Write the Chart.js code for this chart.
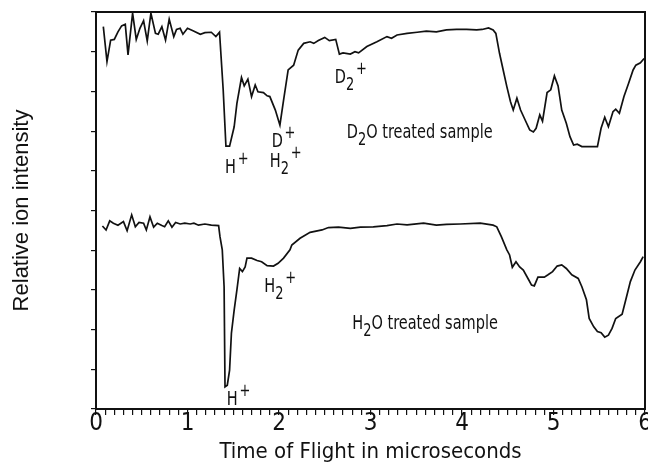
<!DOCTYPE html>
<html>
<head>
<meta charset="utf-8">
<script src="https://cdn.jsdelivr.net/npm/chart.js@4.4.1/dist/chart.umd.min.js"></script>
<style>
    html, body { margin: 0; padding: 0; background: #fff; }
</style>
</head>
<body>
<canvas id="tofChart" width="648" height="466"></canvas>
<script>
// Time of flight (microseconds) and relative intensity
const d2oTime = [
    0.08, 0.12, 0.16, 0.20, 0.24, 0.28, 0.32, 0.35, 0.40, 0.44,
    0.48, 0.52, 0.56, 0.60, 0.65, 0.68, 0.72, 0.76, 0.80, 0.85,
    0.88, 0.92, 0.95, 1.00, 1.06, 1.14, 1.19, 1.26, 1.31, 1.35,
    1.39, 1.42, 1.46, 1.51, 1.54, 1.59, 1.62, 1.66, 1.70, 1.74,
    1.77, 1.83, 1.87, 1.90, 1.96, 2.01, 2.05, 2.10, 2.16, 2.21,
    2.27, 2.34, 2.38, 2.43, 2.50, 2.55, 2.62, 2.66, 2.70, 2.78,
    2.83, 2.87, 2.96, 3.07, 3.18, 3.23, 3.29, 3.40, 3.51, 3.61,
    3.72, 3.83, 3.94, 4.05, 4.16, 4.22, 4.29, 4.34, 4.37, 4.41,
    4.45, 4.49, 4.53, 4.56, 4.60, 4.64, 4.69, 4.74, 4.78, 4.81,
    4.85, 4.88, 4.93, 4.97, 5.01, 5.05, 5.09, 5.14, 5.18, 5.22,
    5.26, 5.31, 5.48, 5.52, 5.56, 5.60, 5.65, 5.68, 5.72, 5.77,
    5.82, 5.87, 5.90, 5.95, 5.99
];
const d2oIntensity = [
    9.63, 8.75, 9.29, 9.31, 9.50, 9.65, 9.69, 8.92, 9.97, 9.31,
    9.59, 9.78, 9.27, 9.97, 9.46, 9.44, 9.63, 9.29, 9.82, 9.38,
    9.56, 9.59, 9.44, 9.59, 9.53, 9.44, 9.48, 9.49, 9.38, 9.49,
    8.04, 6.62, 6.62, 7.11, 7.70, 8.35, 8.14, 8.31, 7.87, 8.16,
    7.99, 7.97, 7.89, 7.87, 7.53, 7.15, 7.78, 8.54, 8.66, 9.04,
    9.21, 9.25, 9.21, 9.28, 9.36, 9.28, 9.31, 8.94, 8.97, 8.94,
    9.00, 8.97, 9.13, 9.25, 9.38, 9.34, 9.42, 9.46, 9.49, 9.52,
    9.50, 9.55, 9.56, 9.56, 9.55, 9.56, 9.60, 9.55, 9.46, 8.96,
    8.54, 8.12, 7.74, 7.53, 7.83, 7.53, 7.28, 7.03, 6.98, 7.07,
    7.41, 7.25, 7.97, 8.04, 8.39, 8.14, 7.53, 7.20, 6.86, 6.65,
    6.67, 6.61, 6.61, 7.07, 7.35, 7.11, 7.49, 7.55, 7.45, 7.87,
    8.20, 8.54, 8.66, 8.72, 8.83
];

const h2oTime = [
    0.07, 0.11, 0.15, 0.19, 0.24, 0.30, 0.34, 0.39, 0.43, 0.47,
    0.52, 0.55, 0.59, 0.63, 0.67, 0.72, 0.75, 0.79, 0.83, 0.87,
    0.92, 0.97, 1.03, 1.07, 1.12, 1.19, 1.26, 1.34, 1.355, 1.38,
    1.40, 1.41, 1.435, 1.46, 1.48, 1.51, 1.54, 1.57, 1.60, 1.63,
    1.65, 1.70, 1.76, 1.81, 1.87, 1.94, 1.99, 2.05, 2.12, 2.14,
    2.23, 2.34, 2.47, 2.54, 2.65, 2.78, 2.89, 3.03, 3.18, 3.29,
    3.40, 3.58, 3.72, 3.83, 3.98, 4.20, 4.34, 4.38, 4.43, 4.49,
    4.52, 4.55, 4.59, 4.63, 4.67, 4.73, 4.76, 4.79, 4.83, 4.90,
    4.94, 4.99, 5.04, 5.09, 5.14, 5.20, 5.27, 5.31, 5.36, 5.39,
    5.44, 5.48, 5.52, 5.56, 5.60, 5.64, 5.68, 5.75, 5.79, 5.84,
    5.89, 5.95, 5.98
];
const h2oIntensity = [
    4.61, 4.51, 4.74, 4.68, 4.63, 4.72, 4.49, 4.89, 4.59, 4.70,
    4.68, 4.51, 4.84, 4.58, 4.68, 4.62, 4.59, 4.74, 4.58, 4.70,
    4.66, 4.68, 4.66, 4.68, 4.63, 4.66, 4.63, 4.62, 4.34, 4.01,
    3.08, 0.56, 0.60, 0.98, 1.91, 2.49, 3.00, 3.54, 3.46, 3.58,
    3.80, 3.80, 3.74, 3.71, 3.61, 3.60, 3.67, 3.80, 4.01, 4.13,
    4.30, 4.45, 4.51, 4.57, 4.58, 4.55, 4.58, 4.59, 4.62, 4.66,
    4.64, 4.68, 4.63, 4.65, 4.66, 4.68, 4.63, 4.59, 4.34, 4.01,
    3.88, 3.57, 3.71, 3.58, 3.50, 3.25, 3.12, 3.10, 3.32, 3.32,
    3.38, 3.46, 3.60, 3.63, 3.54, 3.38, 3.29, 3.08, 2.75, 2.28,
    2.07, 1.95, 1.92, 1.81, 1.86, 2.03, 2.28, 2.39, 2.75, 3.21,
    3.50, 3.71, 3.84
];

const xTickLabels = ['0', '1', '2', '3', '4', '5', '6'];

// ion labels: anchor (time, intensity) = left end of the text baseline
const ionLabels = [
    { t: 1.41, v: 5.94, parts: [['H', ''], ['+', 'sup']] },
    { t: 1.92, v: 6.59, parts: [['D', ''], ['+', 'sup']] },
    { t: 1.90, v: 6.10, parts: [['H', ''], ['2', 'sub'], ['+', 'sup']] },
    { t: 2.61, v: 8.20, parts: [['D', ''], ['2', 'sub'], ['+', 'sup']] },
    { t: 2.74, v: 6.82, parts: [['D', ''], ['2', 'sub'], ['O treated sample', '']] },
    { t: 1.84, v: 2.95, parts: [['H', ''], ['2', 'sub'], ['+', 'sup']] },
    { t: 1.43, v: 0.10, parts: [['H', ''], ['+', 'sup']] },
    { t: 2.80, v: 2.02, parts: [['H', ''], ['2', 'sub'], ['O treated sample', '']] }
];

const narrowFont = "'Liberation Sans Narrow', 'DejaVu Sans Condensed', sans-serif";
const ink = '#111';

const toPoints = (xs, ys) => xs.map((x, i) => ({ x: x, y: ys[i] }));

const ionLabelPlugin = {
    id: 'ionLabels',
    afterDatasetsDraw(chart) {
        const ctx = chart.ctx;
        const xs = chart.scales.x;
        const ys = chart.scales.y;
        ionLabels.forEach(lbl => {
            ctx.save();
            ctx.fillStyle = ink;
            ctx.textBaseline = 'alphabetic';
            ctx.textAlign = 'left';
            ctx.translate(xs.getPixelForValue(lbl.t), ys.getPixelForValue(lbl.v));
            ctx.scale(0.85, 1);   // the original lettering is very condensed
            let px = 0;
            lbl.parts.forEach(([txt, kind]) => {
                let dy = 0;
                if (kind === 'sub') {
                    ctx.font = '17px ' + narrowFont;
                    dy = 7;
                } else if (kind === 'sup') {
                    ctx.font = '17px ' + narrowFont;
                    dy = -9;
                    px += 2;
                } else {
                    ctx.font = '19px ' + narrowFont;
                }
                ctx.fillText(txt, px, dy);
                px += ctx.measureText(txt).width;
            });
            ctx.restore();
        });
    }
};

const ctx = document.getElementById('tofChart').getContext('2d');
const tofChart = new Chart(ctx, {
    type: 'line',
    data: {
        datasets: [{
            label: 'D2O treated sample',
            data: toPoints(d2oTime, d2oIntensity),
            borderColor: ink,
            borderWidth: 1.7,
            pointRadius: 0,
            tension: 0,
            fill: false
        }, {
            label: 'H2O treated sample',
            data: toPoints(h2oTime, h2oIntensity),
            borderColor: ink,
            borderWidth: 1.7,
            pointRadius: 0,
            tension: 0,
            fill: false
        }]
    },
    options: {
        responsive: false,
        animation: false,
        layout: {
            padding: { top: 12, right: 3, left: 0, bottom: 0 }
        },
        plugins: {
            legend: { display: false },
            tooltip: { enabled: false }
        },
        scales: {
            x: {
                type: 'linear',
                position: 'bottom',
                min: 0,
                max: 6,
                ticks: {
                    stepSize: 0.1,
                    maxTicksLimit: 100,
                    autoSkip: false,
                    maxRotation: 0,
                    padding: -6,
                    color: ink,
                    font: { family: narrowFont, size: 24 },
                    callback: (value) => {
                        const r = Math.round(value);
                        return Math.abs(value - r) < 1e-6 ? xTickLabels[r] : '';
                    }
                },
                grid: {
                    drawOnChartArea: false,
                    drawTicks: true,
                    tickLength: 6,
                    color: ink,
                    lineWidth: 1.2
                },
                border: { color: ink, width: 2 },
                title: {
                    display: true,
                    text: 'Time of Flight in microseconds',
                    color: ink,
                    font: { family: narrowFont, size: 22 },
                    padding: { top: 0, bottom: 1 }
                },
                afterFit: (scale) => {
                    scale.height = 57;
                    scale.paddingLeft = 0;
                    scale.paddingRight = 0;
                }
            },
            y: {
                type: 'linear',
                position: 'left',
                min: 0,
                max: 10,
                ticks: { stepSize: 1, display: false },
                grid: {
                    drawOnChartArea: false,
                    drawTicks: true,
                    tickLength: 5,
                    color: ink,
                    lineWidth: 1.2
                },
                border: { color: ink, width: 2 },
                title: {
                    display: true,
                    text: 'Relative ion intensity',
                    color: ink,
                    font: { family: "'Liberation Sans', Arial, sans-serif", size: 22 },
                    padding: { top: 9, bottom: 0 }
                },
                afterFit: (scale) => {
                    scale.width = 96;
                }
            },
            x2: {
                type: 'linear',
                position: 'top',
                min: 0,
                max: 6,
                ticks: { display: false },
                grid: { display: false, drawTicks: false },
                border: { color: ink, width: 2 },
                afterFit: (scale) => {
                    scale.height = 0;
                    scale.paddingLeft = 0;
                    scale.paddingRight = 0;
                }
            },
            y2: {
                type: 'linear',
                position: 'right',
                min: 0,
                max: 10,
                ticks: { display: false },
                grid: { display: false, drawTicks: false },
                border: { color: ink, width: 2 },
                afterFit: (scale) => {
                    scale.width = 0;
                }
            }
        }
    },
    plugins: [ionLabelPlugin]
});
</script>
</body>
</html>
